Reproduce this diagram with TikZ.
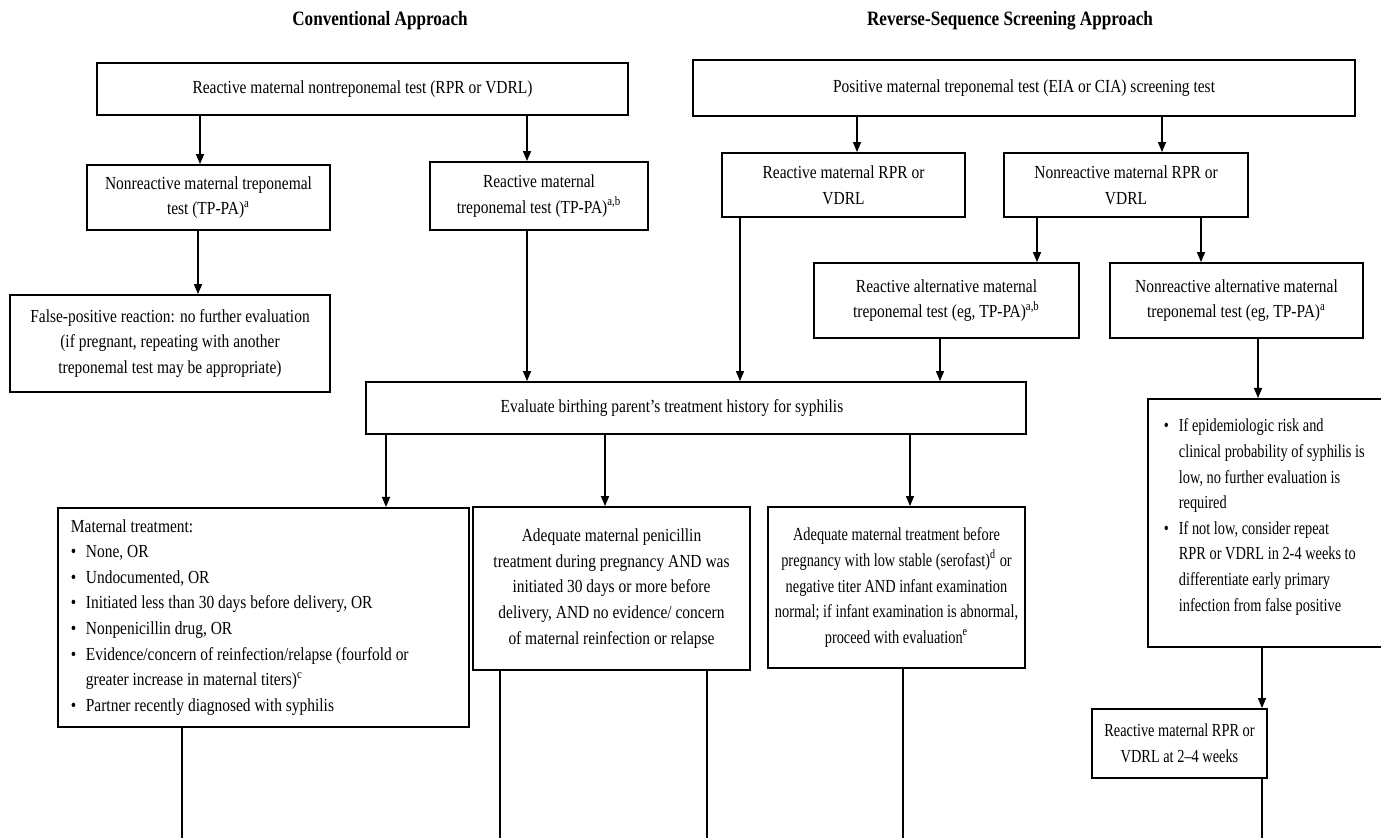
\documentclass[tikz,border=0pt]{standalone}
\usepackage{fontspec}
\setmainfont{Liberation Serif}[FakeStretch=0.84]
\newfontfamily\tightfont{Liberation Serif}[FakeStretch=0.78, Ligatures=TeX]
\usetikzlibrary{arrows.meta}
\newcommand\bul{\par\noindent\hangindent=7.5pt\hangafter=1\hbox to 7.5pt{\textbullet\hfil}}

\begin{document}
\begin{tikzpicture}[x=0.5pt, y=-0.5pt,
    box/.style={draw, line width=0.9pt, align=center, inner sep=2pt, font=\fontsize{9.2}{12.8}\selectfont},
    tight/.style={font=\tightfont\fontsize{9.2}{12.8}\selectfont},
    title/.style={font=\fontsize{10.2}{12}\selectfont\bfseries},
    arr/.style={line width=0.7pt, -{Triangle[length=5pt,width=4pt]}},
    ln/.style={line width=0.7pt}]
        \fill[white] (0,0) rectangle (1381,838);
        \useasboundingbox (0,0) rectangle (1381,838);
        \node[title] (conv) at (380,21) {Conventional Approach};
        \node[title] (rev) at (1010,21) {Reverse-Sequence Screening Approach};
        \node[box, minimum width=265.5pt, minimum height=26pt] (nontrep) at (362.5,89) {Reactive maternal nontreponemal test (RPR or VDRL)};
        \node[box, minimum width=331pt, minimum height=28pt] (screen) at (1024,88) {Positive maternal treponemal test (EIA or CIA) screening test};
        \node[box, minimum width=121.5pt, minimum height=32.5pt] (nontrepneg) at (208.5,197.5) {Nonreactive maternal treponemal\\ test (TP-PA)\textsuperscript{a}};
        \node[box, minimum width=109pt, minimum height=34pt] (nontreppos) at (539,196) {Reactive maternal\\ treponemal test (TP-PA)\textsuperscript{a,b}};
        \node[box, minimum width=121.5pt, minimum height=32pt] (rprpos) at (843.5,185) {Reactive maternal RPR or\\ VDRL};
        \node[box, minimum width=122pt, minimum height=32pt] (rprneg) at (1126,185) {Nonreactive maternal RPR or\\ VDRL};
        \node[box, minimum width=160pt, minimum height=48.5pt] (falsepos) at (170,343.5) {False-positive reaction: no further evaluation\\ (if pregnant, repeating with another\\ treponemal test may be appropriate)};
        \node[box, minimum width=132.5pt, minimum height=37.5pt] (altpos) at (946.5,300.5) {Reactive alternative maternal\\ treponemal test (eg, TP-PA)\textsuperscript{a,b}};
        \node[box, minimum width=126.5pt, minimum height=37.5pt] (altneg) at (1236.5,300.5) {Nonreactive alternative maternal\\ treponemal test (eg, TP-PA)\textsuperscript{a}};
        \node[box, minimum width=330pt, minimum height=26pt] (evalhist) at (696,408) {Evaluate birthing parent's treatment history for syphilis\hspace*{24pt}};
        \node[box, anchor=north west, inner xsep=6.5pt, inner ysep=0pt, minimum height=109.5pt] (mattx) at (57,507) {\parbox{192.5pt}{\raggedright Maternal treatment:
            \bul None, OR
            \bul Undocumented, OR
            \bul Initiated less than 30 days before delivery, OR
            \bul Nonpenicillin drug, OR
            \bul Evidence/concern of reinfection/relapse (fourfold or\newline greater increase in maternal titers)\textsuperscript{c}
            \bul Partner recently diagnosed with syphilis}};
        \node[box, minimum width=138.5pt, minimum height=81.5pt] (adqpreg) at (611.5,588.5) {Adequate maternal penicillin\\ treatment during pregnancy AND was\\ initiated 30 days or more before\\ delivery, AND no evidence/ concern\\ of maternal reinfection or relapse};
        \node[box, tight, minimum width=128.5pt, minimum height=80.5pt] (adqbefore) at (896.5,587.5) {Adequate maternal treatment before\\ pregnancy with low stable (serofast)\textsuperscript{d} or\\ negative titer AND infant examination\\ normal; if infant examination is abnormal,\\ proceed with evaluation\textsuperscript{e}};
        \node[box, tight, anchor=north west, inner xsep=8pt, inner ysep=10pt] (lowrisk) at (1147,398) {\parbox[c][104pt][t]{116pt}{\raggedright
            \bul If epidemiologic risk and\newline clinical probability of syphilis is\newline low, no further evaluation is\newline required
            \bul If not low, consider repeat\newline RPR or VDRL in 2-4 weeks to\newline differentiate early primary\newline infection from false positive}};
        \node[box, tight, minimum width=87.5pt, minimum height=34.5pt] (repeat) at (1179.5,743.5) {Reactive maternal RPR or\\ VDRL at 2--4 weeks};
        \draw[arr] (nontrep.south -| 200,0) -- (nontrepneg.north -| 200,0);
        \draw[arr] (nontrep.south -| 527,0) -- (nontreppos.north -| 527,0);
        \draw[arr] (nontrepneg.south -| 198,0) -- (falsepos.north -| 198,0);
        \draw[arr] (nontreppos.south -| 527,0) -- (evalhist.north -| 527,0);
        \draw[arr] (screen.south -| 857,0) -- (rprpos.north -| 857,0);
        \draw[arr] (screen.south -| 1162,0) -- (rprneg.north -| 1162,0);
        \draw[arr] (rprpos.south -| 740,0) -- (evalhist.north -| 740,0);
        \draw[arr] (rprneg.south -| 1037,0) -- (altpos.north -| 1037,0);
        \draw[arr] (rprneg.south -| 1201,0) -- (altneg.north -| 1201,0);
        \draw[arr] (altpos.south -| 940,0) -- (evalhist.north -| 940,0);
        \draw[arr] (altneg.south -| 1258,0) -- (lowrisk.north -| 1258,0);
        \draw[arr] (evalhist.south -| 386,0) -- (mattx.north -| 386,0);
        \draw[arr] (evalhist.south -| 605,0) -- (adqpreg.north -| 605,0);
        \draw[arr] (evalhist.south -| 910,0) -- (adqbefore.north -| 910,0);
        \draw[arr] (lowrisk.south -| 1262,0) -- (repeat.north -| 1262,0);
        \coordinate (out1) at (182,838);
        \coordinate (out2) at (500,838);
        \coordinate (out3) at (707,838);
        \coordinate (out4) at (903,838);
        \coordinate (out5) at (1262,838);
        \draw[ln] (mattx.south -| out1) -- (out1);
        \draw[ln] (adqpreg.south -| out2) -- (out2);
        \draw[ln] (adqpreg.south -| out3) -- (out3);
        \draw[ln] (adqbefore.south -| out4) -- (out4);
        \draw[ln] (repeat.south -| out5) -- (out5);
    \end{tikzpicture}
\end{document}
